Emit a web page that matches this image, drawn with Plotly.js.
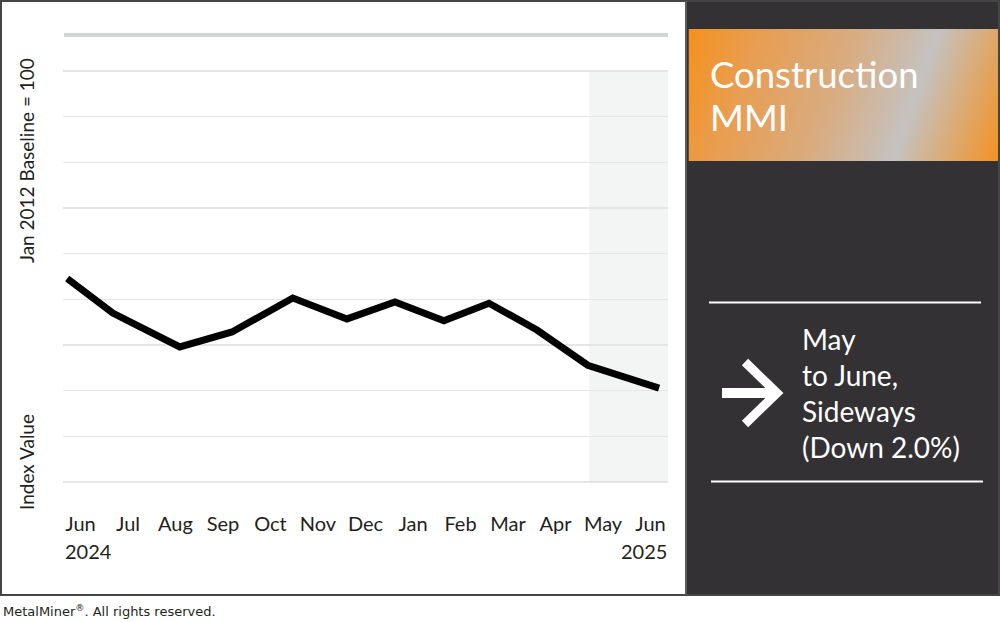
<!DOCTYPE html>
<html>
<head>
<meta charset="utf-8">
<script src="https://cdn.plot.ly/plotly-3.0.1.min.js"></script>
<style>
  html, body { margin: 0; padding: 0; background: #ffffff; }
  #chart { width: 1000px; height: 622px; }
</style>
</head>
<body>
<div id="chart"></div>
<script>
// ---- Data ----
const tickMonths = ['Jun', 'Jul', 'Aug', 'Sep', 'Oct', 'Nov', 'Dec', 'Jan', 'Feb', 'Mar', 'Apr', 'May', 'Jun'];
const tickIndex = [0, 1, 2, 3, 4, 5, 6, 7, 8, 9, 10, 11, 12];
const yearLabels = ['2024', '2025'];
const pointPos = [-0.28, 0.68, 2.09, 3.19, 4.47, 5.61, 6.62, 7.65, 8.60, 9.61, 10.68, 12.18];
const indexValues = [181.2, 175.9, 170.7, 173.0, 178.2, 175.0, 177.6, 174.7, 177.4, 173.3, 167.9, 164.4];
const shadeStart = 10.71;
const gridMin = 150, gridMax = 213, gridStep = 7;
const yAxisTitles = ['Jan 2012 Baseline = 100', 'Index Value'];
const panelTitle = ['Construction', 'MMI'];
const panelNote = ['May', 'to June,', 'Sideways', '(Down 2.0%)'];
const footer = 'MetalMiner<sup>®</sup>. All rights reserved.';

// ---- Layout geometry ----
const W = 1000, H = 622;
const M = { l: 63, r: 332, t: 64, b: 133 };
const plotW = W - M.l - M.r, plotH = H - M.t - M.b;
const px = v => (v - M.l) / plotW;          // pixel x -> paper x
const py = v => (H - M.b - v) / plotH;      // pixel y -> paper y

// grid spans pixels 71..482; extend the range 7px each way so edge gridlines show
const gridPx = 411;
const pad = 7 * (gridMax - gridMin) / gridPx;
const xRange = [-0.368, 12.368];
const yRange = [gridMin - pad, gridMax + pad];

const FONT = 'Lato, "Noto Sans", sans-serif';
const TXT = '#231f20';

const gradSvg = '<svg xmlns="http://www.w3.org/2000/svg" width="310" height="132" viewBox="0 0 310 132">' +
  '<defs><linearGradient id="g" gradientUnits="userSpaceOnUse" x1="0" y1="20" x2="310" y2="130">' +
  '<stop offset="0" stop-color="#f39222"/>' +
  '<stop offset="0.18" stop-color="#e99d50"/>' +
  '<stop offset="0.45" stop-color="#d9ab7e"/>' +
  '<stop offset="0.70" stop-color="#c4c2c0"/>' +
  '<stop offset="1" stop-color="#f39222"/>' +
  '</linearGradient></defs><rect width="310" height="132" fill="url(#g)"/></svg>';
const gradSrc = 'data:image/svg+xml;charset=utf-8,' + encodeURIComponent(gradSvg);

const trace = {
  type: 'scatter',
  mode: 'lines',
  x: pointPos,
  y: indexValues,
  line: { color: '#000000', width: 7 },
  hoverinfo: 'skip',
  cliponaxis: false
};

const annotations = [];
// y-axis titles
annotations.push({ xref: 'paper', yref: 'paper', x: px(26), y: py(161), text: yAxisTitles[0],
  textangle: -90, showarrow: false, xanchor: 'center', yanchor: 'middle',
  font: { family: FONT, size: 19, color: TXT } });
annotations.push({ xref: 'paper', yref: 'paper', x: px(26), y: py(462), text: yAxisTitles[1],
  textangle: -90, showarrow: false, xanchor: 'center', yanchor: 'middle',
  font: { family: FONT, size: 19, color: TXT } });
// years
annotations.push({ xref: 'paper', yref: 'paper', x: px(63), y: py(551), text: yearLabels[0],
  showarrow: false, xanchor: 'left', yanchor: 'middle', font: { family: FONT, size: 20, color: TXT } });
annotations.push({ xref: 'paper', yref: 'paper', x: px(669), y: py(551), text: yearLabels[1],
  showarrow: false, xanchor: 'right', yanchor: 'middle', font: { family: FONT, size: 20, color: TXT } });
// panel title
const titleY = [74, 117];
panelTitle.forEach((t, i) => annotations.push({ xref: 'paper', yref: 'paper', x: px(708), y: py(titleY[i]),
  text: t, showarrow: false, xanchor: 'left', yanchor: 'middle',
  font: { family: FONT, size: 36.5, color: '#ffffff' } }));
// panel note
const noteY = [339, 375, 411, 447];
panelNote.forEach((t, i) => annotations.push({ xref: 'paper', yref: 'paper', x: px(800), y: py(noteY[i]),
  text: t, showarrow: false, xanchor: 'left', yanchor: 'middle',
  font: { family: FONT, size: 28, color: '#ffffff' } }));
// footer
annotations.push({ xref: 'paper', yref: 'paper', x: px(1), y: py(611), text: footer,
  showarrow: false, xanchor: 'left', yanchor: 'middle',
  font: { family: '"DejaVu Sans", Verdana, sans-serif', size: 13, color: '#231f20' } });

const P = (x, y) => px(x) + ' ' + py(y);

const shapes = [
  // dark right panel
  { type: 'rect', xref: 'paper', yref: 'paper', x0: px(686), x1: px(1000), y0: py(0), y1: py(596),
    fillcolor: '#333133', line: { width: 0 }, layer: 'below' },
  // outer border of the card
  { type: 'rect', xref: 'paper', yref: 'paper', x0: px(1), x1: px(999), y0: py(1), y1: py(595),
    fillcolor: 'rgba(0,0,0,0)', line: { color: '#454545', width: 2 }, layer: 'above' },
  // divider between panels
  { type: 'line', xref: 'paper', yref: 'paper', x0: px(686), x1: px(686), y0: py(1), y1: py(595),
    line: { color: '#5a5a5a', width: 2 }, layer: 'above' },
  // shaded recent period
  { type: 'rect', xref: 'x', yref: 'y', x0: shadeStart, x1: xRange[1], y0: gridMin, y1: gridMax,
    fillcolor: '#f3f5f4', line: { width: 0 }, layer: 'below' },
  // thick top rule
  { type: 'line', xref: 'paper', yref: 'paper', x0: px(64), x1: px(668), y0: py(35), y1: py(35),
    line: { color: '#d3d5d4', width: 4 }, layer: 'above' },
  // white rules in right panel
  { type: 'line', xref: 'paper', yref: 'paper', x0: px(709), x1: px(981), y0: py(302.5), y1: py(302.5),
    line: { color: '#ffffff', width: 2 } },
  { type: 'line', xref: 'paper', yref: 'paper', x0: px(711), x1: px(983), y0: py(481.5), y1: py(481.5),
    line: { color: '#ffffff', width: 2 } },
  // arrow
  { type: 'path', xref: 'paper', yref: 'paper', path: 'M ' + P(722, 393) + ' L ' + P(775, 393),
    line: { color: '#ffffff', width: 10 } },
  { type: 'path', xref: 'paper', yref: 'paper',
    path: 'M ' + P(745, 362) + ' L ' + P(777, 393) + ' L ' + P(745, 424),
    line: { color: '#ffffff', width: 9 } }
];

const images = [{
  source: gradSrc, xref: 'paper', yref: 'paper',
  x: px(688.5), y: py(29), sizex: 310 / plotW, sizey: 132 / plotH,
  xanchor: 'left', yanchor: 'top', sizing: 'stretch', layer: 'above'
}];

const layout = {
  width: W, height: H,
  margin: M,
  paper_bgcolor: '#ffffff',
  plot_bgcolor: 'rgba(0,0,0,0)',
  showlegend: false,
  xaxis: {
    range: xRange, showgrid: false, zeroline: false, showline: false,
    tickmode: 'array', tickvals: tickIndex, ticktext: tickMonths,
    ticks: '', ticklabelstandoff: 21,
    tickfont: { family: FONT, size: 20, color: TXT }, fixedrange: true
  },
  yaxis: {
    range: yRange, tick0: gridMin, dtick: gridStep, showticklabels: false, ticks: '',
    showgrid: true, gridcolor: '#e6e6e6', gridwidth: 1.5,
    zeroline: false, showline: false, fixedrange: true
  },
  shapes: shapes,
  annotations: annotations,
  images: images
};

Plotly.newPlot('chart', [trace], layout, { staticPlot: true, displayModeBar: false });
</script>
</body>
</html>
